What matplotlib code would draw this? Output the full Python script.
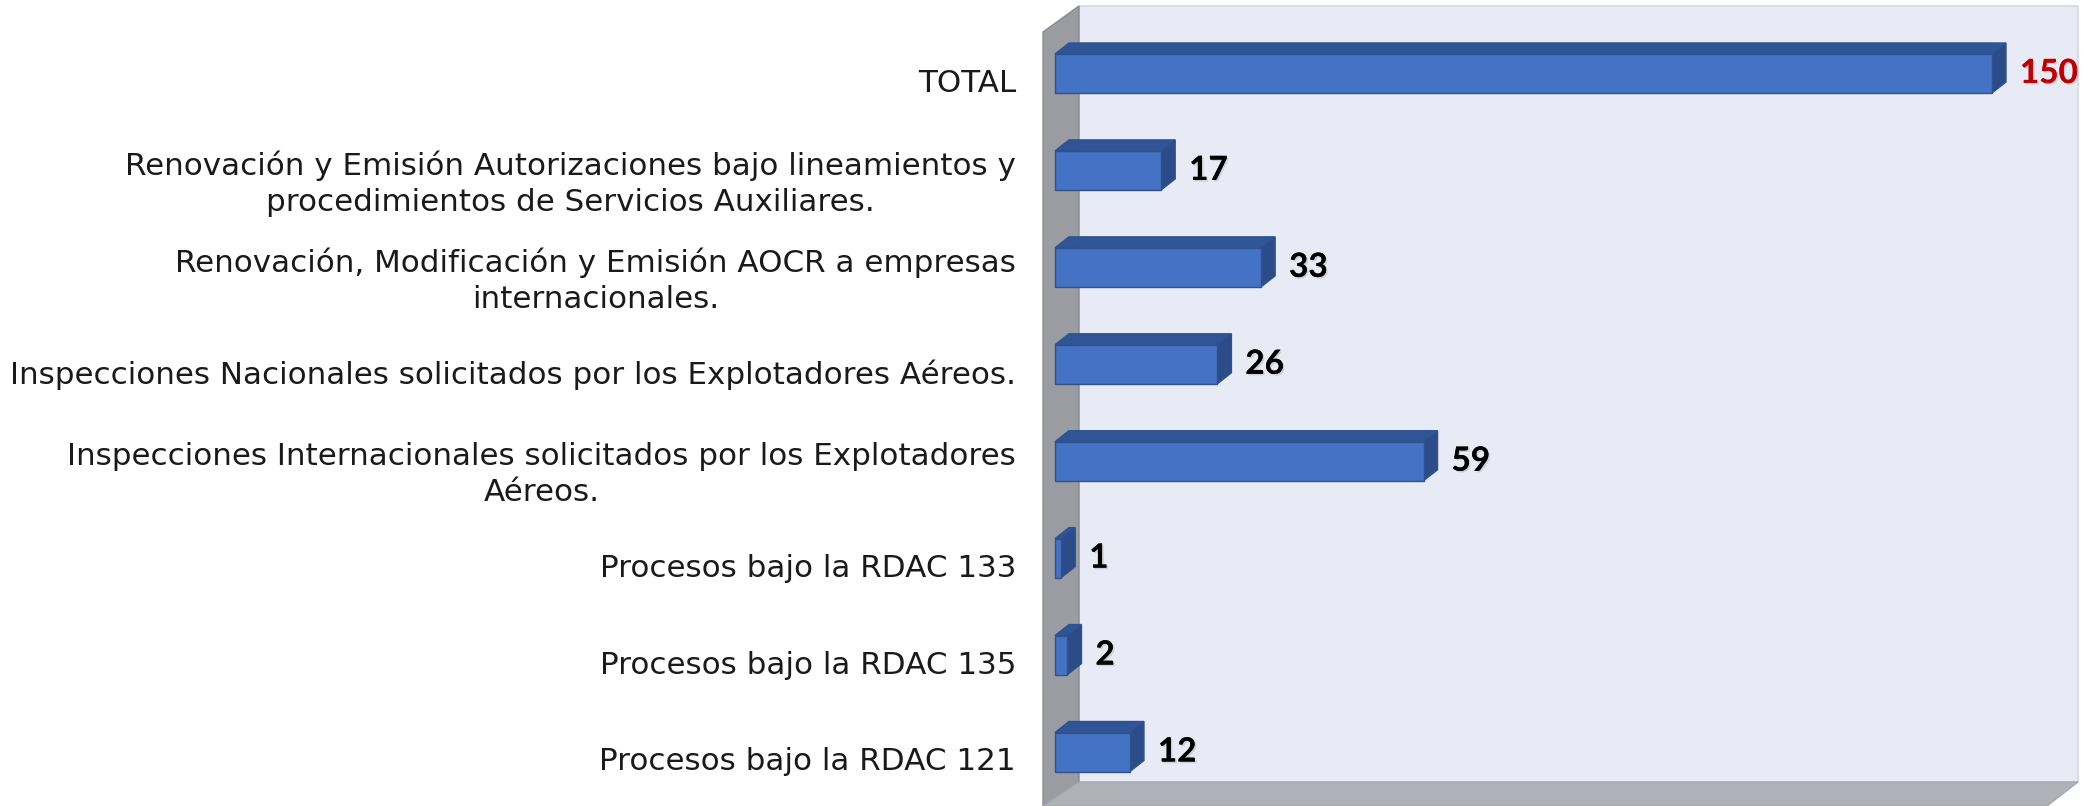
import matplotlib
matplotlib.use("Agg")
import matplotlib.pyplot as plt
import numpy as np
from matplotlib.patches import Polygon
from matplotlib.transforms import ScaledTranslation
import matplotlib.patheffects as pe

# ---- data (top to bottom as shown) ----
categories = [
    "TOTAL",
    "Renovación y Emisión Autorizaciones bajo lineamientos y\nprocedimientos de Servicios Auxiliares.",
    "Renovación, Modificación y Emisión AOCR a empresas\ninternacionales.",
    "Inspecciones Nacionales solicitados por los Explotadores Aéreos.",
    "Inspecciones Internacionales solicitados por los Explotadores\nAéreos.",
    "Procesos bajo la RDAC 133",
    "Procesos bajo la RDAC 135",
    "Procesos bajo la RDAC 121",
]
values = [150, 17, 33, 26, 59, 1, 2, 12]
label_colors = ["#C00000", "black", "black", "black", "black", "black", "black", "black"]

W, H, DPI = 2084, 806, 100
fig = plt.figure(figsize=(W / DPI, H / DPI), dpi=DPI)
fig.patch.set_facecolor("white")

ax_left_px = 1030
ax = fig.add_axes([ax_left_px / W, 0, (W - ax_left_px) / W, 1])

n = len(categories)
ypos = np.arange(n)[::-1]  # TOTAL at top

# scales (layout): value 0 at px 1055, 150 at px 1992; category spacing ~96.9 px
px_per_unit = (1992 - 1055) / 150.0
x0_px = 1055
ax.set_xlim((ax_left_px - x0_px) / px_per_unit, (W - x0_px) / px_per_unit)
cat_px = 96.93
bottom_cat_px = 752
ax.set_ylim(-(H - bottom_cat_px) / cat_px, bottom_cat_px / cat_px)

ax.set_facecolor("white")
for s in ax.spines.values():
    s.set_visible(False)

# ---- walls (axes coords) ----
def axx(px):
    return (px - ax_left_px) / (W - ax_left_px)

def axy(py):
    return 1 - py / H

side = Polygon([(axx(1043), axy(32)), (axx(1079), axy(6)), (axx(1079), axy(782)), (axx(1043), axy(806))],
               closed=True, transform=ax.transAxes, facecolor="#9B9CA1", edgecolor="#8A8B90", lw=1, zorder=1)
back = Polygon([(axx(1079), axy(6)), (axx(2078), axy(6)), (axx(2078), axy(782)), (axx(1079), axy(782))],
               closed=True, transform=ax.transAxes, facecolor="#E8EAF6", edgecolor="#D6D8E0", lw=1.2, zorder=1)
floor = Polygon([(axx(1043), axy(806)), (axx(1079), axy(782)), (axx(2078), axy(782)), (axx(2047), axy(806))],
                closed=True, transform=ax.transAxes, facecolor="#AEB1B8", edgecolor="#A5A8AF", lw=1, zorder=1)
for p in (back, side, floor):
    ax.add_patch(p)

# ---- 3D bars ----
bh = 39 / cat_px
ddx = 14 / px_per_unit
ddy = 11 / cat_px
front_c, top_c, side_c, edge_c = "#4472C4", "#2F5597", "#2B4C88", "#2F528F"

for y, v, col in zip(ypos, values, label_colors):
    yb, yt = y - bh / 2, y + bh / 2
    front = Polygon([(0, yb), (v, yb), (v, yt), (0, yt)], closed=True,
                    facecolor=front_c, edgecolor=edge_c, lw=1, zorder=3)
    top = Polygon([(0, yt), (v, yt), (v + ddx, yt + ddy), (ddx, yt + ddy)], closed=True,
                  facecolor=top_c, edgecolor=edge_c, lw=1, zorder=3)
    rside = Polygon([(v, yb), (v + ddx, yb + ddy), (v + ddx, yt + ddy), (v, yt)], closed=True,
                    facecolor=side_c, edgecolor=edge_c, lw=1, zorder=3)
    for p in (top, rside, front):
        ax.add_patch(p)
    t = ax.annotate(str(v), xy=(v + ddx, y), xytext=(10, 0), textcoords="offset points",
                    ha="left", va="center", fontsize=24, fontweight="bold",
                    family=["Lato", "DejaVu Sans"], color=col, zorder=5)
    t.set_path_effects([pe.withSimplePatchShadow(offset=(1.2, -1.2), alpha=0.2, shadow_rgbFace="#666666"),
                        pe.Normal()])

# ---- category labels ----
ax.set_xticks([])
ax.set_yticks(ypos)
ax.set_yticklabels(categories, fontsize=22.3, family=["DejaVu Sans"], fontweight="normal",
                   color="#1a1a1a", multialignment="center", linespacing=1.3)
ax.tick_params(axis="y", length=0, pad=10)
offset = ScaledTranslation(0, -7 / DPI, fig.dpi_scale_trans)
for lab in ax.get_yticklabels():
    lab.set_transform(lab.get_transform() + offset)

fig.savefig("out.png", dpi=DPI, facecolor="white")
